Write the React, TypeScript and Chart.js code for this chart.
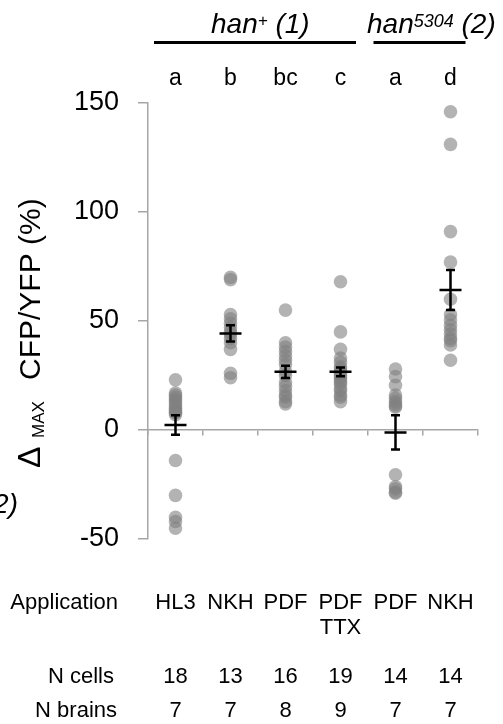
import React, { useEffect, useRef } from 'react';
import { Chart, registerables } from 'chart.js';

Chart.register(...registerables);

// ---- data ----
const applications = ['HL3', 'NKH', 'PDF', 'PDF\nTTX', 'PDF', 'NKH'];
const groupLetters = ['a', 'b', 'bc', 'c', 'a', 'd'];
const nCells = [18, 13, 16, 19, 14, 14];
const nBrains = [7, 7, 8, 9, 7, 7];

const hl3Values = [23, 17, 16, 15, 14, 13, 12, 11, 10, 9, 8, 8, 7, -14, -30, -40, -42, -45];
const nkhValues = [70, 69, 53, 51, 49, 47, 45, 44, 42, 40, 37, 26, 24];
const pdfValues = [55, 40, 38, 36, 34, 32, 30, 27, 25, 22, 20, 18, 16, 15, 13, 12];
const pdfTtxValues = [68, 45, 37, 33, 31, 29, 28, 27, 26, 25, 24, 23, 22, 21, 19, 18, 16, 15, 13];
const pdfMutValues = [28, 24.5, 20.5, 16, 14.5, 13, 12, 11, 10.5, -20.5, -26, -27, -28.5, -29];
const nkhMutValues = [146, 131, 91, 77, 60, 53, 50.5, 48, 46, 44, 42, 41, 39, 32];

const cellValues = [hl3Values, nkhValues, pdfValues, pdfTtxValues, pdfMutValues, nkhMutValues];
const means = [2.3, 44.3, 26.7, 26.7, -1.1, 64.2];
const sems = [4.5, 3.7, 2.8, 2.0, 7.9, 9.2];

const yMin = -50;
const yMax = 150;
const yStep = 50;

const FONT = "'Liberation Sans', Arial, sans-serif";
const AXIS_GRAY = '#a6a6a6';

type Part = { text: string; size: number; dy: number; italic?: boolean };

function drawParts(ctx: CanvasRenderingContext2D, parts: Part[], x: number, y: number) {
  let cx = x;
  for (const p of parts) {
    ctx.font = `${p.italic ? 'italic ' : ''}${p.size}px ${FONT}`;
    ctx.fillText(p.text, cx, y + p.dy);
    cx += ctx.measureText(p.text).width;
  }
}

const annotationPlugin = {
  id: 'annotations',
  afterDatasetsDraw(chart: any) {
    const ctx: CanvasRenderingContext2D = chart.ctx;
    const xs = chart.scales.x;
    const ys = chart.scales.y;
    ctx.save();
    // error bars (mean ± SEM)
    ctx.strokeStyle = '#000';
    ctx.lineWidth = 2.5;
    means.forEach((m, i) => {
      const cx = xs.getPixelForValue(i);
      const yc = ys.getPixelForValue(m);
      const yt = ys.getPixelForValue(m + sems[i]);
      const yb = ys.getPixelForValue(m - sems[i]);
      ctx.beginPath();
      ctx.moveTo(cx - 11, yc);
      ctx.lineTo(cx + 11, yc);
      ctx.moveTo(cx, yt);
      ctx.lineTo(cx, yb);
      ctx.moveTo(cx - 4.5, yt);
      ctx.lineTo(cx + 4.5, yt);
      ctx.moveTo(cx - 4.5, yb);
      ctx.lineTo(cx + 4.5, yb);
      ctx.stroke();
    });
    ctx.restore();
  },
  afterDraw(chart: any) {
    const ctx: CanvasRenderingContext2D = chart.ctx;
    const xs = chart.scales.x;
    ctx.save();
    ctx.fillStyle = '#000';
    ctx.textBaseline = 'alphabetic';

    // genotype headers
    ctx.textAlign = 'left';
    drawParts(ctx, [
      { text: 'han', size: 28, dy: 0, italic: true },
      { text: '+', size: 17, dy: -7.5, italic: true },
      { text: ' (1)', size: 28, dy: 0, italic: true },
    ], 211, 33);
    drawParts(ctx, [
      { text: 'han', size: 28, dy: 0, italic: true },
      { text: '5304', size: 18, dy: -6, italic: true },
      { text: ' (2)', size: 28, dy: 0, italic: true },
    ], 367, 33);

    ctx.strokeStyle = '#000';
    ctx.lineWidth = 3;
    ctx.beginPath();
    ctx.moveTo(xs.getPixelForValue(-0.5) + 6, 42.5);
    ctx.lineTo(xs.getPixelForValue(3.5) - 12, 42.5);
    ctx.moveTo(xs.getPixelForValue(4) - 22, 42.5);
    ctx.lineTo(xs.getPixelForValue(5) + 15, 42.5);
    ctx.stroke();

    // significance letters
    ctx.textAlign = 'center';
    ctx.font = `23px ${FONT}`;
    groupLetters.forEach((l, i) => ctx.fillText(l, xs.getPixelForValue(i), 85));

    // table below
    ctx.font = `22px ${FONT}`;
    applications.forEach((a, i) => {
      const lines = a.split('\n');
      lines.forEach((ln, k) => ctx.fillText(ln, xs.getPixelForValue(i), 609 + k * 25));
    });
    nCells.forEach((n, i) => ctx.fillText(String(n), xs.getPixelForValue(i), 683));
    nBrains.forEach((n, i) => ctx.fillText(String(n), xs.getPixelForValue(i), 717));
    ctx.textAlign = 'right';
    ctx.fillText('Application', 118, 609);
    ctx.fillText('N cells', 114, 683);
    ctx.fillText('N brains', 117, 717);

    // cut-off fragment of neighbouring panel
    ctx.font = `italic 28px ${FONT}`;
    ctx.fillText('(2)', 18, 513);

    // y-axis title with subscript
    ctx.translate(40, 468);
    ctx.rotate(-Math.PI / 2);
    ctx.textAlign = 'left';
    ctx.font = `32px ${FONT}`;
    ctx.fillText('\u0394', 0, 0);
    ctx.font = `17px ${FONT}`;
    ctx.fillText('MAX', 30, 4);
    ctx.font = `30px ${FONT}`;
    ctx.fillText('CFP/YFP (%)', 88, 0);

    ctx.restore();
  },
};

export default function App() {
  const canvasRef = useRef<HTMLCanvasElement | null>(null);

  useEffect(() => {
    if (!canvasRef.current) return;
    const boundaries = [...applications.map((_, i) => i - 0.5), applications.length - 0.5];
    const chart = new Chart(canvasRef.current, {
      type: 'scatter',
      data: {
        datasets: cellValues.map((vals, i) => ({
          data: vals.map((v) => ({ x: i, y: v })),
          pointRadius: 6.8,
          pointHoverRadius: 6.8,
          backgroundColor: 'rgba(128,128,128,0.6)',
          borderWidth: 0,
          showLine: false,
        })),
      },
      options: {
        animation: false,
        responsive: false,
        events: [],
        layout: { padding: { top: 103, right: 25, bottom: 185, left: 0 } },
        plugins: { legend: { display: false }, tooltip: { enabled: false } },
        scales: {
          x: {
            type: 'linear',
            min: -0.5,
            max: applications.length - 0.5,
            position: { y: 0 } as any,
            afterBuildTicks: (s: any) => {
              s.ticks = boundaries.map((v) => ({ value: v }));
            },
            ticks: { display: false },
            grid: { drawOnChartArea: false, drawTicks: true, tickLength: 5, color: AXIS_GRAY, lineWidth: 1.5 },
            border: { color: AXIS_GRAY, width: 1.5 },
          },
          y: {
            type: 'linear',
            min: yMin,
            max: yMax,
            ticks: { stepSize: yStep, padding: 19, color: '#000', font: { family: FONT, size: 27 } },
            grid: { drawOnChartArea: false, drawTicks: true, tickLength: 10, color: AXIS_GRAY, lineWidth: 1.5 },
            border: { color: AXIS_GRAY, width: 1.5 },
            afterFit: (s: any) => {
              s.width = 148;
            },
          },
        },
      },
      plugins: [annotationPlugin],
    });
    return () => chart.destroy();
  }, []);

  return (
    <div style={{ position: 'fixed', left: 0, top: 0, width: 503, height: 724, background: '#fff' }}>
      <canvas ref={canvasRef} width={503} height={724} style={{ display: 'block' }} />
    </div>
  );
}
